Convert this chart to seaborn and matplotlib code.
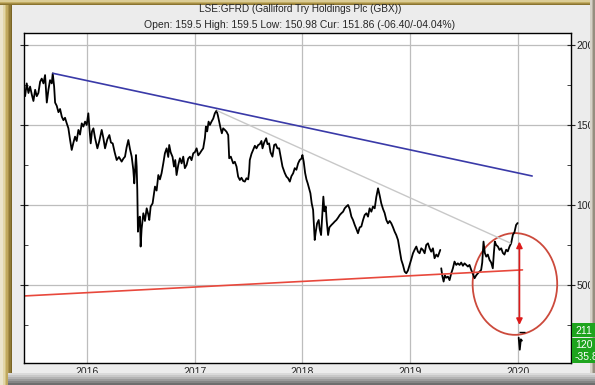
import numpy as np
import pandas as pd
import matplotlib
matplotlib.use("Agg")
import matplotlib.pyplot as plt
import seaborn as sns
from matplotlib.patches import Rectangle, Ellipse

# === dane (rok dziesietny, cena w pensach) ===
dates = [
    2015.414, 2015.429, 2015.444, 2015.460, 2015.475, 2015.491, 2015.506, 2015.522, 2015.537, 2015.552,
    2015.568, 2015.583, 2015.599, 2015.614, 2015.630, 2015.645, 2015.660, 2015.676, 2015.685, 2015.698,
    2015.707, 2015.722, 2015.738, 2015.753, 2015.769, 2015.784, 2015.799, 2015.815, 2015.830, 2015.846,
    2015.861, 2015.877, 2015.892, 2015.907, 2015.923, 2015.938, 2015.954, 2015.969, 2015.985, 2016.000,
    2016.015, 2016.025, 2016.037, 2016.049, 2016.062, 2016.077, 2016.099, 2016.117, 2016.139, 2016.154,
    2016.170, 2016.191, 2016.210, 2016.225, 2016.241, 2016.259, 2016.278, 2016.299, 2016.324, 2016.340,
    2016.355, 2016.370, 2016.386, 2016.401, 2016.417, 2016.432, 2016.441, 2016.451, 2016.457, 2016.463,
    2016.469, 2016.475, 2016.485, 2016.494, 2016.500, 2016.509, 2016.525, 2016.540, 2016.556, 2016.571,
    2016.580, 2016.593, 2016.611, 2016.633, 2016.648, 2016.664, 2016.679, 2016.694, 2016.710, 2016.725,
    2016.741, 2016.756, 2016.765, 2016.778, 2016.796, 2016.809, 2016.821, 2016.833, 2016.849, 2016.864,
    2016.880, 2016.895, 2016.910, 2016.926, 2016.941, 2016.957, 2016.972, 2016.988, 2017.003, 2017.019,
    2017.034, 2017.049, 2017.065, 2017.080, 2017.096, 2017.105, 2017.117, 2017.130, 2017.142, 2017.157,
    2017.173, 2017.188, 2017.204, 2017.216, 2017.228, 2017.241, 2017.253, 2017.265, 2017.281, 2017.296,
    2017.312, 2017.321, 2017.336, 2017.358, 2017.373, 2017.389, 2017.404, 2017.420, 2017.435, 2017.451,
    2017.466, 2017.481, 2017.497, 2017.506, 2017.512, 2017.528, 2017.543, 2017.559, 2017.574, 2017.590,
    2017.605, 2017.620, 2017.630, 2017.645, 2017.664, 2017.676, 2017.691, 2017.704, 2017.722, 2017.738,
    2017.753, 2017.768, 2017.784, 2017.799, 2017.815, 2017.836, 2017.852, 2017.867, 2017.883, 2017.898,
    2017.914, 2017.929, 2017.944, 2017.960, 2017.975, 2017.991, 2018.000, 2018.012, 2018.025, 2018.037,
    2018.049, 2018.062, 2018.074, 2018.086, 2018.099, 2018.108, 2018.114, 2018.123, 2018.136, 2018.151,
    2018.160, 2018.173, 2018.185, 2018.194, 2018.204, 2018.216, 2018.225, 2018.238, 2018.250, 2018.269,
    2018.284, 2018.299, 2018.315, 2018.330, 2018.346, 2018.361, 2018.377, 2018.392, 2018.407, 2018.423,
    2018.438, 2018.454, 2018.469, 2018.485, 2018.500, 2018.515, 2018.531, 2018.546, 2018.562, 2018.577,
    2018.593, 2018.608, 2018.623, 2018.639, 2018.654, 2018.670, 2018.685, 2018.701, 2018.716, 2018.731,
    2018.747, 2018.762, 2018.778, 2018.793, 2018.809, 2018.824, 2018.840, 2018.855, 2018.870, 2018.886,
    2018.901, 2018.917, 2018.932, 2018.948, 2018.963, 2018.978, 2018.994, 2019.009, 2019.025, 2019.040,
    2019.056, 2019.071, 2019.086, 2019.102, 2019.117, 2019.133, 2019.148, 2019.164, 2019.179, 2019.194,
    2019.210, 2019.225, 2019.241, 2019.256, 2019.272, 2019.278, 2019.287, 2019.296, 2019.309, 2019.321,
    2019.333, 2019.349, 2019.364, 2019.380, 2019.395, 2019.410, 2019.426, 2019.441, 2019.457, 2019.472,
    2019.488, 2019.503, 2019.519, 2019.534, 2019.549, 2019.565, 2019.580, 2019.596, 2019.611, 2019.627,
    2019.642, 2019.657, 2019.667, 2019.679, 2019.691, 2019.704, 2019.719, 2019.735, 2019.750, 2019.765,
    2019.775, 2019.784, 2019.796, 2019.812, 2019.827, 2019.843, 2019.858, 2019.873, 2019.889, 2019.904,
    2019.920, 2019.935, 2019.951, 2019.966, 2019.981, 2019.995, 2020.005, 2020.015, 2020.025, 2020.035,
]
prices = [
    1719, 1680, 1760, 1700, 1740, 1690, 1650, 1720, 1680, 1700,
    1770, 1790, 1760, 1812, 1640, 1720, 1780, 1760, 1823, 1740,
    1640, 1620, 1580, 1600, 1552, 1530, 1545, 1510, 1480, 1406,
    1344, 1390, 1427, 1400, 1469, 1440, 1510, 1490, 1521, 1500,
    1573, 1480, 1385, 1460, 1479, 1420, 1354, 1400, 1469, 1420,
    1354, 1410, 1437, 1390, 1385, 1330, 1281, 1300, 1271, 1290,
    1302, 1360, 1406, 1350, 1302, 1220, 1135, 1250, 1312, 1240,
    1094, 833, 920, 927, 740, 850, 948, 900, 979, 940,
    906, 990, 1010, 1115, 1090, 1187, 1160, 1198, 1260, 1323,
    1354, 1300, 1375, 1330, 1300, 1240, 1281, 1187, 1250, 1292,
    1260, 1302, 1230, 1250, 1290, 1302, 1280, 1323, 1330, 1354,
    1310, 1323, 1340, 1354, 1420, 1490, 1460, 1521, 1500, 1521,
    1540, 1573, 1590, 1560, 1521, 1480, 1448, 1479, 1469, 1458,
    1437, 1292, 1302, 1260, 1270, 1240, 1177, 1156, 1170, 1150,
    1146, 1167, 1160, 1210, 1281, 1320, 1344, 1370, 1354, 1375,
    1380, 1400, 1354, 1390, 1417, 1380, 1385, 1330, 1302, 1375,
    1380, 1354, 1354, 1300, 1240, 1200, 1177, 1167, 1146, 1180,
    1198, 1230, 1220, 1260, 1281, 1290, 1312, 1270, 1200, 1160,
    1135, 1104, 1073, 1010, 969, 850, 781, 830, 885, 906,
    850, 812, 950, 1052, 960, 990, 900, 812, 860, 875,
    885, 896, 906, 920, 937, 948, 958, 979, 990, 1000,
    975, 927, 906, 875, 850, 823, 860, 865, 906, 937,
    948, 927, 979, 958, 990, 979, 1050, 1104, 1060, 1010,
    975, 950, 906, 885, 900, 885, 860, 833, 812, 781,
    720, 656, 625, 583, 573, 590, 625, 660, 698, 720,
    740, 708, 698, 729, 719, 698, 750, 760, 729, 708,
    729, 667, 690, 677, 708, 719, 604, 560, 521, 560,
    545, 552, 530, 573, 604, 646, 625, 635, 625, 640,
    620, 635, 625, 615, 625, 594, 570, 542, 560, 573,
    583, 594, 640, 771, 700, 677, 690, 656, 640, 604,
    700, 771, 750, 740, 719, 729, 700, 690, 720, 710,
    740, 760, 813, 830, 875, 887, 170, 95, 160, 152,
]
# daty, od ktorych wykres ma przerwe (luka w notowaniach)
gap_starts = [2019.287, 2020.005]

# linie trendu: (rok, cena) poczatek i koniec
blue_trend = ([2015.687, 2020.13], [1823, 1181])
grey_trend = ([2017.21, 2019.93], [1589, 761])
red_trend = ([2015.417, 2020.04], [431, 594])

# cel w kolku
circle_center = (2019.97, 506)
circle_size = (0.784, 636)
arrow_x = 2020.012
arrow_top, arrow_bottom = 771, 250

year_ticks = [2016, 2017, 2018, 2019, 2020]
price_ticks = [500, 1000, 1500, 2000]
price_minor = [250, 750, 1250, 1750]

title = "LSE:GFRD (Galliford Try Holdings Plc (GBX))"
subtitle = "Open: 159.5 High: 159.5 Low: 150.98 Cur: 151.86 (-06.40/-04.04%)"
side_labels = ["211", "120", "-35.8"]

# === wykres ===
sns.set_style("white")
plt.rcParams['font.family'] = ['Liberation Sans', 'DejaVu Sans']

W, H = 595, 385
fig = plt.figure(figsize=(W / 100, H / 100), dpi=100)
fig.patch.set_facecolor('#ececec')

def px_rect(x0, y0, x1, y1, color, z=0):
    fig.add_artist(Rectangle((x0 / W, 1 - y1 / H), (x1 - x0) / W, (y1 - y0) / H,
                             transform=fig.transFigure, color=color, zorder=z, lw=0))

# ramka (zlota lewa/gorna, szara dolna/prawa)
for i, c in enumerate(['#7a6424', '#8f7a36', '#a89048', '#bfa85e', '#d3c27e', '#e2d6a8', '#ebe5cc']):
    px_rect(0, 0, 12 - i * 1.5, H, c, z=-1 + i * 0.01)
for i, c in enumerate(['#8a7430', '#a48c44', '#c2ad64', '#dccd96']):
    px_rect(0, 0, W, 5 - i, c, z=-0.5 + i * 0.01)
for i, c in enumerate(['#dadada', '#c8c8c8', '#b3b3b3', '#9c9c9c', '#858585', '#6e6e6e', '#5c5c5c']):
    px_rect(8, 373 + i * 2, W, 375 + i * 2, c, z=0.2)
for i, c in enumerate(['#d6d2c8', '#b8b2a4', '#968f80']):
    px_rect(590 + i * 1.7, 0, 591.7 + i * 1.7, 373, c, z=4)

ax = fig.add_axes([23.5 / W, 1 - 363 / H, (571 - 23.5) / W, (363 - 33) / H])
ax.set_facecolor('white')

df = pd.DataFrame({'date': dates, 'price': prices})
df['segment'] = np.searchsorted(gap_starts, df['date'], side='right')
sns.lineplot(data=df, x='date', y='price', units='segment', ax=ax, color='black',
             lw=1.3, estimator=None, sort=False)

ax.plot(*blue_trend, color='#3a3aa8', lw=1.2)
ax.plot(*grey_trend, color='#c8c8c8', lw=1.0)
ax.plot(*red_trend, color='#e8483c', lw=1.2)
ax.plot([2020.04], [208], marker='_', color='black', ms=5, mew=1)

ax.add_patch(Ellipse(circle_center, circle_size[0], circle_size[1],
                     fill=False, edgecolor='#cc4a3c', lw=1.3))
ax.annotate('', xy=(arrow_x, arrow_top), xytext=(arrow_x, arrow_bottom),
            arrowprops=dict(arrowstyle='<|-|>', color='#dd1a1a', lw=1.2,
                            mutation_scale=9, shrinkA=0, shrinkB=0))

ax.set_xlim(2015.414, 2020.49)
ax.set_ylim(12, 2075)
ax.set_xticks(year_ticks)
ax.set_xticklabels([str(y) for y in year_ticks])
ax.set_yticks(price_ticks)
ax.set_yticks(price_minor, minor=True)
ax.yaxis.tick_right()
ax.yaxis.set_ticks_position('both')
ax.tick_params(axis='y', which='major', direction='inout', length=6, labelsize=7.5,
               pad=1, right=True, left=True, labelleft=False, labelright=True,
               labelcolor='#222222')
ax.tick_params(axis='y', which='minor', direction='in', length=3, right=True, left=True)
ax.tick_params(axis='x', which='major', length=0, labelsize=7.5, pad=3)
ax.grid(True, which='major', color='#bdbdbd', lw=0.9)
ax.set_xlabel('')
ax.set_ylabel('')
for s in ax.spines.values():
    s.set_color('black')
    s.set_linewidth(1.0)

fig.text(300 / W, 1 - 8.5 / H, title, ha='center', va='center', fontsize=7.2)
fig.text(300 / W, 1 - 24.5 / H, subtitle, ha='center', va='center', fontsize=7.5)

# zielone etykiety po prawej
px_rect(572, 323, W, 337, '#1ea41e', z=5)
px_rect(572, 338, W, 363, '#1ea41e', z=5)
for lab, yy in zip(side_labels, [330.5, 345.5, 356.5]):
    fig.text(575 / W, 1 - yy / H, lab, color='white', fontsize=7.5, va='center',
             ha='left', zorder=6)

fig.savefig('out.png', dpi=100, facecolor=fig.get_facecolor())
